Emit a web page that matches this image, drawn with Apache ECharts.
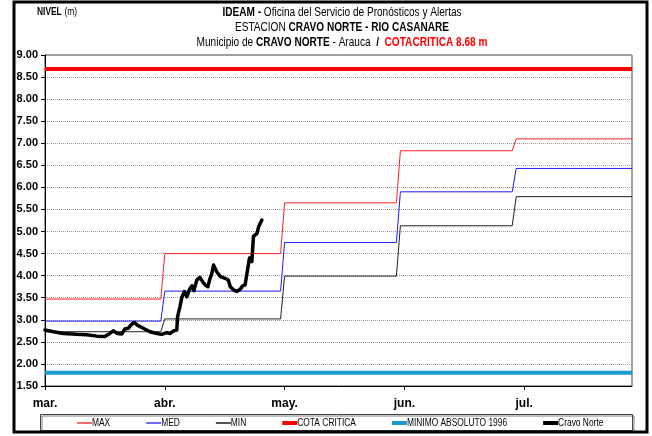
<!DOCTYPE html>
<html>
<head>
<meta charset="utf-8">
<script src="https://cdn.jsdelivr.net/npm/echarts@6/dist/echarts.min.js"></script>
<style>
  html, body { margin: 0; padding: 0; background: #fff; }
  #chart { width: 652px; height: 436px; }
</style>
</head>
<body>
<div id="chart"></div>
<script>
// Month tick labels along the day axis (one tick every 30 days)
const monthLabels = ['mar.', 'abr.', 'may.', 'jun.', 'jul.'];
// First day index (from 1 March) of each monthly reference level
const monthStartDays = [0, 30, 60, 89, 118];
const lastDay = 147;

// Monthly reference levels (m)
const maxLevels = [3.47, 4.50, 5.65, 6.83, 7.10];
const medLevels = [2.97, 3.65, 4.75, 5.90, 6.43];
const minLevels = [2.73, 3.02, 3.99, 5.13, 5.79];

// Horizontal reference levels (m)
const cotaCritica = 8.68;
const minimoAbsoluto = 1.80;

// Observed level at Cravo Norte: day index and level (m)
const cravoDays = [0, 2.1, 4.6, 7.9, 10.4, 13, 15, 15.9, 17.1, 18.1, 19.2, 20, 20.9, 21.5, 22.3, 23.1, 24.6, 26.3, 28, 29.2, 30.5, 31.3, 32.2, 33, 33.2, 33.8, 34.3, 34.9, 35.5, 36.2, 36.8, 37.3, 38, 38.8, 39.5, 40.1, 40.8, 41.2, 41.8, 42.2, 42.6, 43, 43.9, 45.1, 45.9, 46.4, 47.2, 48, 48.9, 49.5, 50.1, 50.6, 51.2, 51.8, 52.2, 53.1, 53.5, 54.3];
const cravoLevels = [2.77, 2.73, 2.69, 2.67, 2.66, 2.63, 2.62, 2.67, 2.75, 2.69, 2.68, 2.79, 2.81, 2.88, 2.94, 2.88, 2.81, 2.73, 2.69, 2.67, 2.71, 2.69, 2.75, 2.77, 3.07, 3.30, 3.52, 3.64, 3.52, 3.69, 3.77, 3.66, 3.90, 3.96, 3.86, 3.79, 3.75, 3.90, 4.06, 4.24, 4.28, 4.09, 3.98, 3.94, 3.90, 3.75, 3.68, 3.64, 3.69, 3.77, 3.79, 4.06, 4.40, 4.32, 4.89, 4.96, 5.11, 5.26];

const FONT = "'Liberation Sans', Arial, sans-serif";
// horizontal squeeze that gives the condensed heading / legend lettering
const NARROW = 0.84;

// Monthly level held through each month, changing over one day at month start
function monthlySteps(levels) {
  const pts = [];
  for (let i = 0; i < levels.length; i++) {
    const start = monthStartDays[i];
    const end = i + 1 < levels.length ? monthStartDays[i + 1] - 1 : lastDay;
    pts.push([start, levels[i]]);
    pts.push([end, levels[i]]);
  }
  return pts;
}

function flat(v) { return [[0, v], [lastDay, v]]; }

const cravoData = cravoDays.map((d, i) => [d, cravoLevels[i]]);

const lineBase = { type: 'line', symbol: 'none', showSymbol: false, animation: false };
const series = [
  Object.assign({}, lineBase, { name: 'MAX', data: monthlySteps(maxLevels), lineStyle: { color: '#ff2020', width: 1 }, z: 3 }),
  Object.assign({}, lineBase, { name: 'MED', data: monthlySteps(medLevels), lineStyle: { color: '#1a1aff', width: 1 }, z: 3 }),
  Object.assign({}, lineBase, { name: 'MIN', data: monthlySteps(minLevels), lineStyle: { color: '#222', width: 1 }, z: 3 }),
  Object.assign({}, lineBase, { name: 'COTA CRITICA', data: flat(cotaCritica), lineStyle: { color: '#ff0000', width: 4 }, z: 4 }),
  Object.assign({}, lineBase, { name: 'MINIMO ABSOLUTO 1996', data: flat(minimoAbsoluto), lineStyle: { color: '#1a9ad0', width: 4 }, z: 4 }),
  Object.assign({}, lineBase, { name: 'Cravo Norte', data: cravoData, lineStyle: { color: '#000', width: 3.5, join: 'round', cap: 'round' }, z: 5 })
];

// Legend key swatches (colour, stroke width) in series order
const legendKeys = [
  ['#ff6a6a', 2], ['#6a6aff', 2], ['#555', 2],
  ['#ff0000', 4], ['#1a9ad0', 4], ['#000', 4]
];

// Condensed legend row laid out left to right inside the legend box
const measure = document.createElement('canvas').getContext('2d');
measure.font = '10px ' + FONT;
const legendGraphics = [];
let lx = 77;
const ly = 423;
series.forEach((s, i) => {
  const [color, w] = legendKeys[i];
  legendGraphics.push({
    type: 'line', silent: true, z: 10,
    shape: { x1: lx, y1: ly, x2: lx + 15, y2: ly },
    style: { stroke: color, lineWidth: w }
  });
  legendGraphics.push({
    type: 'text', silent: true, z: 10, x: lx + 15, y: ly, scaleX: NARROW,
    style: { text: s.name, fontFamily: FONT, fontSize: 10, fill: '#000', align: 'left', verticalAlign: 'middle' }
  });
  lx += 15 + measure.measureText(s.name).width * NARROW + 36;
});

const chart = echarts.init(document.getElementById('chart'), null, { renderer: 'canvas' });

chart.setOption({
  backgroundColor: '#fff',
  animation: false,
  grid: {
    left: 45, right: 20, top: 55, bottom: 50,
    show: true, borderColor: '#444', borderWidth: 1, backgroundColor: 'transparent'
  },
  xAxis: {
    type: 'value',
    min: 0, max: lastDay, interval: 30,
    axisLine: { show: true, lineStyle: { color: '#000', width: 1 } },
    axisTick: { show: true, length: 4, lineStyle: { color: '#000' } },
    splitLine: { show: false },
    axisLabel: {
      margin: 12,
      fontFamily: FONT, fontWeight: 'bold', fontSize: 12, color: '#000',
      showMaxLabel: false,
      formatter: v => monthLabels[Math.round(v / 30)] || ''
    }
  },
  yAxis: {
    type: 'value',
    min: 1.5, max: 9, interval: 0.5,
    axisLine: { show: true, lineStyle: { color: '#000', width: 1 } },
    axisTick: { show: true, length: 4, lineStyle: { color: '#000' } },
    splitLine: { show: true, lineStyle: { color: '#999', type: 'dotted', width: 1 } },
    axisLabel: {
      margin: 7,
      fontFamily: FONT, fontWeight: 'bold', fontSize: 11, color: '#000',
      formatter: v => v.toFixed(2)
    }
  },
  series: series,
  graphic: [
    // outer frame
    { type: 'rect', shape: { x: 14, y: 2, width: 633, height: 430 }, style: { fill: 'none', stroke: '#000', lineWidth: 3 }, silent: true, z: 100 },
    // legend box
    { type: 'rect', shape: { x: 40.5, y: 414.5, width: 592, height: 16 }, style: { fill: 'none', stroke: '#444', lineWidth: 1, shadowColor: 'rgba(0,0,0,0.5)', shadowOffsetX: 1.5, shadowOffsetY: 1.5 }, silent: true, z: 1 },
    // axis unit
    {
      type: 'text', x: 37, y: 12, scaleX: NARROW, silent: true,
      style: {
        text: '{b|NIVEL} {n|(m)}', verticalAlign: 'middle',
        rich: {
          b: { fontFamily: FONT, fontWeight: 'bold', fontSize: 10, fill: '#000' },
          n: { fontFamily: FONT, fontSize: 10, fill: '#000' }
        }
      }
    },
    // heading
    {
      type: 'text', x: 342, y: 5, scaleX: NARROW, silent: true,
      style: {
        align: 'center', verticalAlign: 'top',
        text: '{b|IDEAM -} {n|Oficina del Servicio de Pronósticos y Alertas}\n{n|ESTACION }{b|CRAVO NORTE - RIO CASANARE}\n{n|Municipio de }{b|CRAVO NORTE}{n| - Arauca  }{b|/  }{r|COTACRITICA 8.68 m}',
        rich: {
          b: { fontFamily: FONT, fontWeight: 'bold', fontSize: 12, fill: '#000', lineHeight: 15 },
          n: { fontFamily: FONT, fontSize: 12, fill: '#000', lineHeight: 15 },
          r: { fontFamily: FONT, fontWeight: 'bold', fontSize: 12, fill: '#ff0000', lineHeight: 15 }
        }
      }
    }
  ].concat(legendGraphics)
});
</script>
</body>
</html>
